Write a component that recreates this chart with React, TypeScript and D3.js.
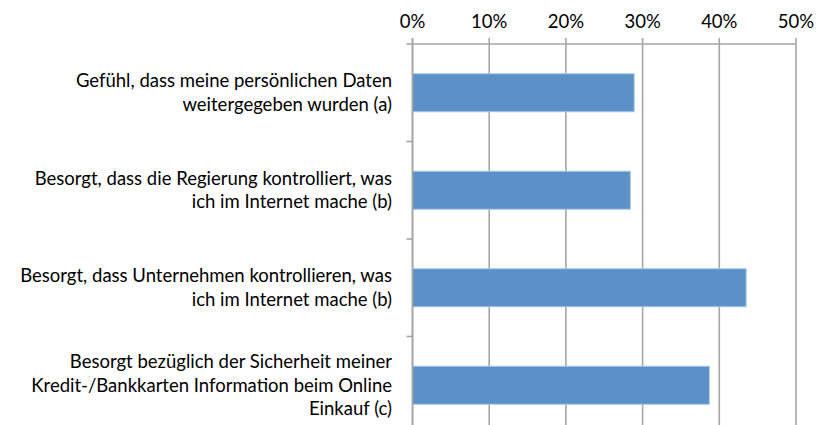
import React from "react";
import * as d3 from "d3";

const categories: string[][] = [
  ["Gefühl, dass meine persönlichen Daten", "weitergegeben wurden (a)"],
  ["Besorgt, dass die Regierung kontrolliert, was", "ich im Internet mache (b)"],
  ["Besorgt, dass Unternehmen kontrollieren, was", "ich im Internet mache (b)"],
  ["Besorgt bezüglich der Sicherheit meiner", "Kredit-/Bankkarten Information beim Online", "Einkauf (c)"],
];
const values: number[] = [0.289, 0.284, 0.435, 0.387];
const xTicks: number[] = [0, 0.1, 0.2, 0.3, 0.4, 0.5];

const W = 819;
const H = 425;
const left = 412.5;
const right = 796;
const top = 44;
const bottom = 434;
const FONT = "Lato, 'Open Sans', sans-serif";

export default function App() {
  const x = d3.scaleLinear().domain([0, 0.5]).range([left, right]);
  const bandH = (bottom - top) / categories.length;
  const bandStart = (i: number) => top + i * bandH;
  const grid = "#a6a6a6";
  const lineH = 23.5;
  return (
    <svg
      width={W}
      height={H}
      style={{ position: "absolute", left: 0, top: 0, background: "#fff" }}
      fontFamily={FONT}
    >
      {xTicks.map((t, i) => (
        <g key={i}>
          <line x1={x(t)} x2={x(t)} y1={top - 6} y2={H} stroke={grid} strokeWidth={1.6} />
          <text x={x(t)} y={28} textAnchor="middle" fontSize={18.5} fill="#000">
            {d3.format(".0%")(t)}
          </text>
        </g>
      ))}
      <line x1={left} x2={right} y1={top} y2={top} stroke={grid} strokeWidth={1.6} />
      {d3.range(categories.length + 1).map((i) => (
        <line
          key={i}
          x1={left - 6}
          x2={left}
          y1={bandStart(i)}
          y2={bandStart(i)}
          stroke={grid}
          strokeWidth={1.6}
        />
      ))}
      {values.map((v, i) => {
        const c = bandStart(i) + bandH / 2;
        const bh = 38;
        return (
          <rect
            key={i}
            x={x(0)}
            y={c - bh / 2}
            width={x(v) - x(0)}
            height={bh}
            fill="#5b91c6"
            stroke="#a9c6e6"
            strokeWidth={1}
          />
        );
      })}
      {categories.map((lines, i) => {
        const c = bandStart(i) + bandH / 2;
        const startY = c - ((lines.length - 1) * lineH) / 2;
        return (
          <text key={i} textAnchor="end" fontSize={18.5} fill="#000">
            {lines.map((l, j) => (
              <tspan key={j} x={392} y={startY + j * lineH} dy="0.35em">
                {l}
              </tspan>
            ))}
          </text>
        );
      })}
      <line x1={left} x2={left} y1={top - 6} y2={H} stroke={grid} strokeWidth={1.6} />
    </svg>
  );
}
